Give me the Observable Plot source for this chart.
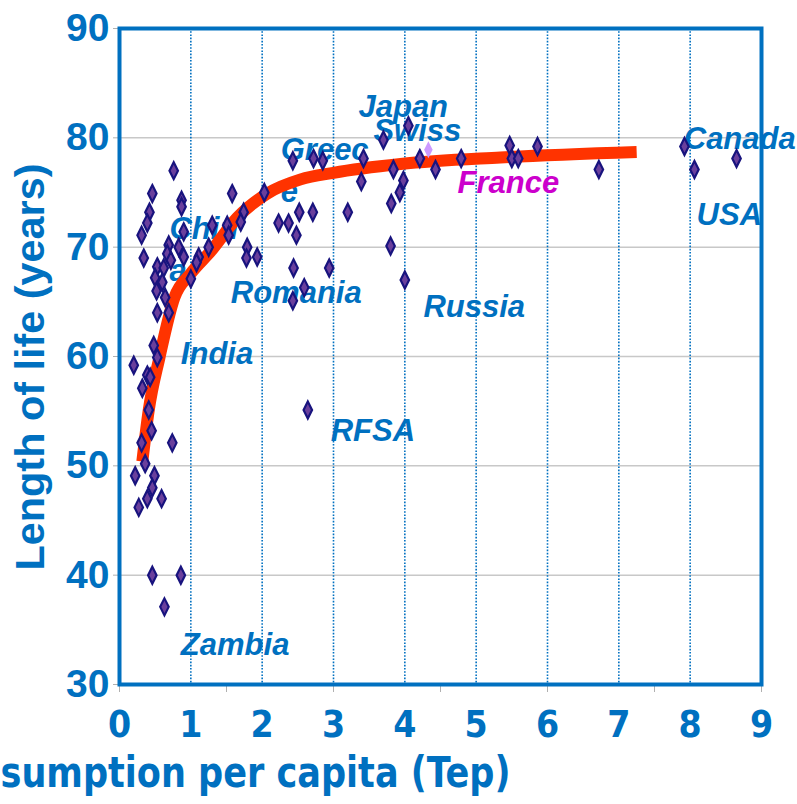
<!DOCTYPE html>
<html><head><meta charset="utf-8">
<script src="https://cdn.jsdelivr.net/npm/d3@7"></script>
<script src="https://cdn.jsdelivr.net/npm/@observablehq/plot@0.6"></script>
<style>body{margin:0;background:#fff;}</style>
</head><body><div id="chart"></div>
<script>
// Countries: energy consumption per capita (Tep) vs length of life (years)
const energyX = [0.76,0.46,1.58,0.87,0.87,0.42,0.39,0.31,0.34,1.74,1.70,1.30,1.51,1.53,0.90,0.69,0.83,1.25,0.90,0.67,0.72,1.11,1.08,1.00,1.79,1.78,1.93,0.53,0.62,0.50,0.60,0.52,0.64,0.53,0.69,0.48,0.53,0.20,0.39,0.43,0.32,0.41,0.45,0.31,0.74,0.36,0.22,0.49,0.46,0.39,0.59,0.27,0.46,0.86,0.63,2.03,2.43,2.72,2.85,3.42,3.39,3.70,3.84,3.98,3.93,3.81,3.80,4.00,4.05,4.21,4.43,4.79,5.47,5.50,5.59,5.86,6.72,7.92,8.06,8.65,2.23,2.37,2.52,2.71,2.48,3.20,2.44,2.94,2.59,2.43,2.64];
const lifeY   = [77.0,74.9,74.9,74.3,73.7,73.2,72.2,71.1,69.0,73.2,72.3,72.0,72.0,71.1,71.4,70.2,70.0,70.0,69.1,69.4,68.8,69.1,68.6,67.1,70.0,69.0,69.1,68.2,68.1,67.2,66.8,66.0,65.4,64.0,64.0,61.0,59.9,59.2,58.3,58.1,57.1,55.1,53.2,52.1,52.1,50.2,49.1,49.1,48.0,47.0,47.0,46.2,40.0,40.0,37.1,75.0,77.9,78.1,77.9,78.1,76.0,79.8,77.1,76.1,75.0,74.0,70.1,67.0,81.1,78.1,77.1,78.1,79.3,78.1,78.1,79.2,77.1,79.2,77.1,78.1,72.2,72.2,73.2,73.2,71.1,73.2,68.1,68.1,66.3,65.1,55.1];
// France (highlighted)
const franceX = [4.33];
const franceY = [78.9];
// Trend curve
const curveX = [0.32,0.41,0.56,0.77,1.00,1.29,1.65,2.07,2.54,3.00,3.94,5.34,7.25];
const curveY = [50.4,55.1,59.9,65.4,67.6,69.7,72.7,74.9,76.2,76.8,77.6,78.2,78.7];
// Country labels
const labelNames = ["Japan","Swiss","Greec\ne","Chin\na","Romania","India","RFSA","Zambia","Russia","Canada","USA"];
const labelX = [3.35,3.56,2.26,0.70,1.56,0.86,2.96,0.86,4.26,7.91,8.09];
const labelY = [83.1,80.9,77.26,70.03,66.14,60.56,53.5,33.9,64.8,80.2,73.2];
const franceLabel = ["France"];
const franceLabelX = [4.74];
const franceLabelY = [75.9];
// Axes
const xTicks = [0,1,2,3,4,5,6,7,8,9];
const xGrid = [1,2,3,4,5,6,7,8];
const xMinor = [0,1.5,3,4.5,6,7.5,9];
const yTicks = [30,40,50,60,70,80,90];
const yGrid = [40,50,60,70,80];
const xTitle = "sumption per capita (Tep)";
const yTitle = "Length of life (years)";

const blue = "#0070C0";
const narrow = "'Liberation Sans Narrow','Arial Narrow','DejaVu Sans Condensed',sans-serif";

const tallDiamond = {
  draw(ctx, size) {
    const r = Math.sqrt(size / Math.PI);
    const w = r * 0.5;
    ctx.moveTo(0, -r); ctx.lineTo(w, 0); ctx.lineTo(0, r); ctx.lineTo(-w, 0); ctx.closePath();
  }
};

const points = energyX.map((x, i) => ({x, y: lifeY[i]}));
const france = franceX.map((x, i) => ({x, y: franceY[i]}));
const curve = curveX.map((x, i) => ({x, y: curveY[i]}));
const labels = labelNames.map((t, i) => ({t, x: labelX[i], y: labelY[i]}));
const fLabels = franceLabel.map((t, i) => ({t, x: franceLabelX[i], y: franceLabelY[i]}));

const chart = Plot.plot({
  width: 797, height: 804,
  marginLeft: 119, marginRight: 36, marginTop: 28, marginBottom: 120,
  x: {domain: [0, 9]},
  y: {domain: [30, 90]},
  style: {fontFamily: "'Liberation Sans',Arial,sans-serif", background: "#fff", overflow: "visible"},
  marks: [
    Plot.ruleY(yGrid, {stroke: "#c8c8c8", strokeWidth: 1.5}),
    Plot.ruleX(xGrid, {stroke: blue, strokeWidth: 1.6, strokeDasharray: "1.6,1.6"}),
    Plot.axisY({ticks: yTicks, label: null, tickSize: 6, tickPadding: 4, stroke: "#b0b0b0", fill: blue, fontSize: 39, fontWeight: "bold", tickFormat: d => String(d)}),
    Plot.axisX({ticks: xMinor, label: null, tickSize: 8, tickFormat: () => "", stroke: "#b0b0b0"}),
    Plot.axisX({ticks: xTicks, label: null, tickSize: 0, tickPadding: 26, fill: blue, fontSize: 37, fontWeight: "bold", fontFamily: narrow, tickFormat: d => String(d)}),
    Plot.text(labels, {x: "x", y: "y", text: "t", textAnchor: "start", fill: blue, fontSize: 31, fontWeight: "bold", fontStyle: "italic", lineHeight: 1.33}),
    Plot.text(fLabels, {x: "x", y: "y", text: "t", textAnchor: "start", fill: "#CC00CC", fontSize: 31, fontWeight: "bold", fontStyle: "italic"}),
    Plot.line(curve, {x: "x", y: "y", stroke: "#FF3300", strokeWidth: 12, curve: "monotone-x", strokeLinecap: "butt"}),
    Plot.dot(points, {x: "x", y: "y", symbol: tallDiamond, r: 8.5, fill: "#6a3f9c", stroke: "#18137e", strokeWidth: 2.2}),
    Plot.dot(france, {x: "x", y: "y", symbol: tallDiamond, r: 8.5, fill: "#CC99FF"}),
    Plot.frame({stroke: blue, strokeWidth: 4}),
    Plot.text([yTitle], {frameAnchor: "left", dx: -88, dy: 214, rotate: -90, textAnchor: "start", fill: blue, fontSize: 40, fontWeight: "bold"}),
    Plot.text([xTitle], {frameAnchor: "bottom-left", dx: -119, dy: 102, textAnchor: "start", fill: blue, fontSize: 42, fontWeight: "bold", fontFamily: narrow})
  ]
});

d3.select(chart).selectAll("text").each(function() {
  if (this.textContent === xTitle) { this.setAttribute("textLength", 510); this.setAttribute("lengthAdjust", "spacingAndGlyphs"); }
  if (this.textContent === yTitle) { this.setAttribute("textLength", 407); this.setAttribute("lengthAdjust", "spacingAndGlyphs"); }
});
document.getElementById("chart").appendChild(chart);
</script>
</body></html>
